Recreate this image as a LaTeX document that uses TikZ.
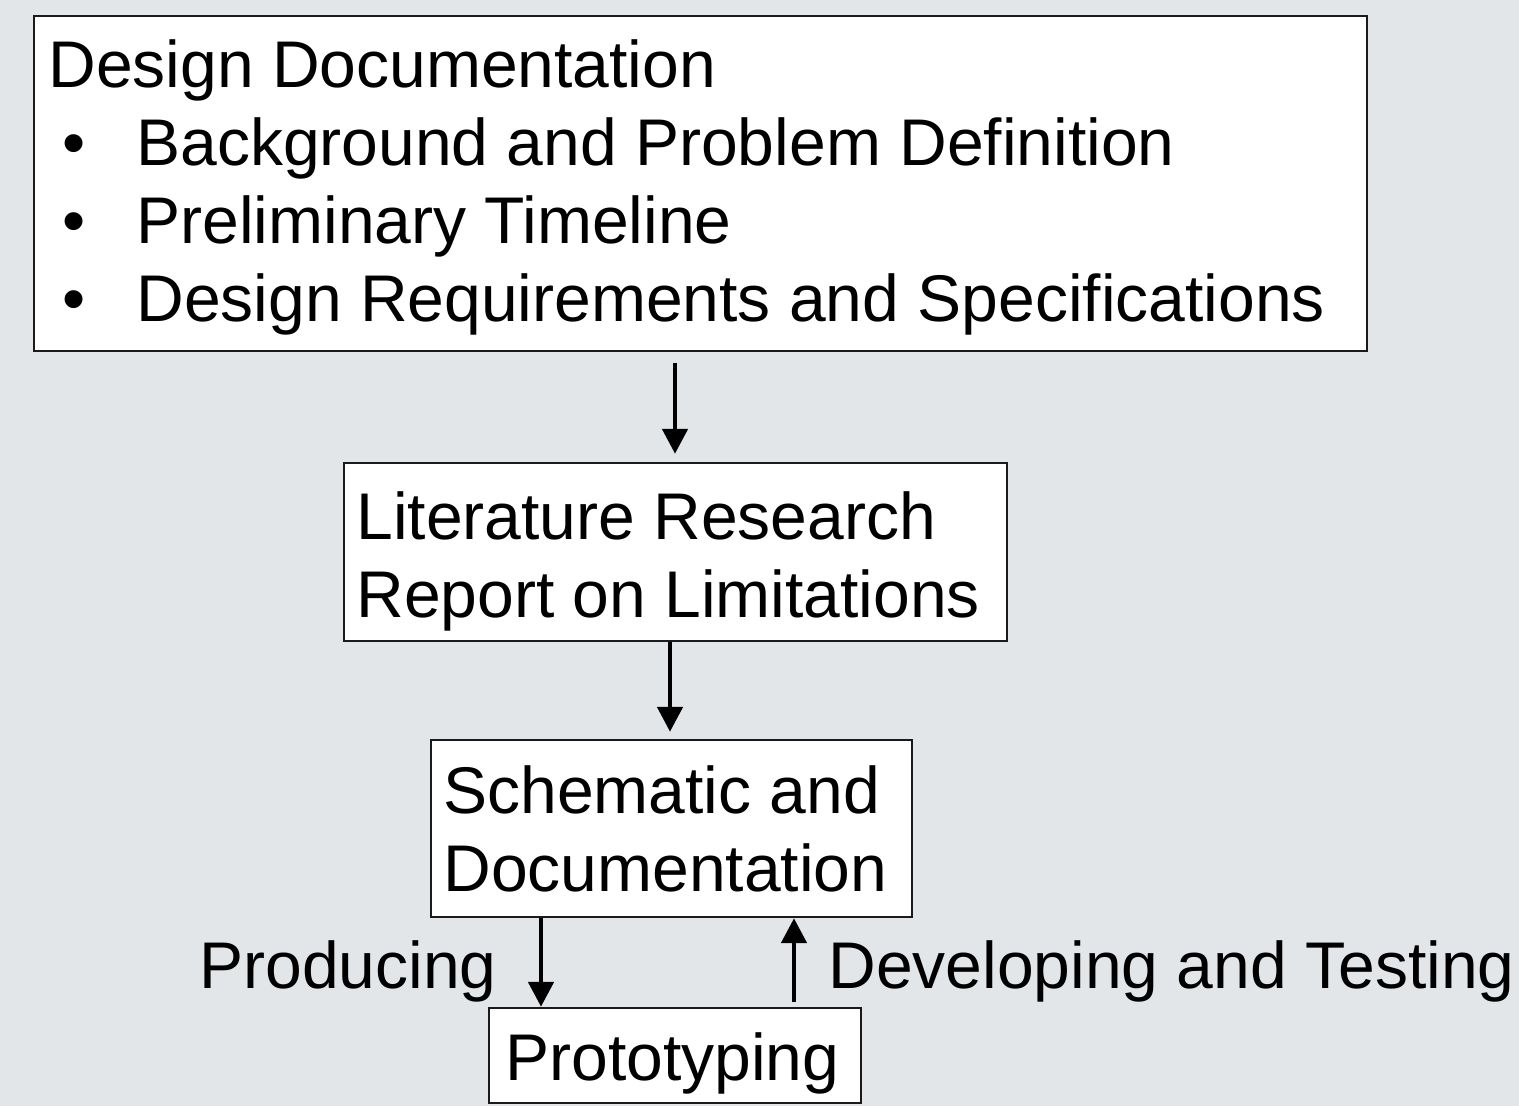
\documentclass[tikz,border=0pt]{standalone}
\usepackage{fontspec}
\setmainfont{Liberation Sans}
\usetikzlibrary{arrows.meta}
\definecolor{bgcol}{HTML}{E3E6E8}
\definecolor{boxline}{HTML}{1A1A1A}
\begin{document}
\begin{tikzpicture}[x=0.5pt,y=-0.5pt,
  box/.style={draw=boxline, line width=1.2pt, fill=white, rectangle, inner sep=0pt},
  txt/.style={anchor=base west, inner sep=0pt, align=left, font=\fontsize{33}{39}\selectfont},
  arr/.style={line width=2.4pt, -{Triangle[width=12.5pt,length=12.5pt]}}]
\fill[bgcol] (0,0) rectangle (1519,1106);
\useasboundingbox (0,0) rectangle (1519,1106);
% boxes
\node[box, minimum width=666.5pt, minimum height=167.5pt] (b1) at (700.5,183.5) {};
\node[box, minimum width=331.5pt, minimum height=89pt] (b2) at (675.5,552) {};
\node[box, minimum width=240.5pt, minimum height=88.5pt] (b3) at (671.5,828.5) {};
\node[box, minimum width=186pt, minimum height=47.5pt] (b4) at (675,1055.5) {};
% texts (base anchor = baseline of the last line)
\node[txt] (t1) at (48,322) {Design Documentation\\
\hspace*{7pt}\makebox[37pt][l]{•}Background and Problem Definition\\
\hspace*{7pt}\makebox[37pt][l]{•}Preliminary Timeline\\
\hspace*{7pt}\makebox[37pt][l]{•}Design Requirements and Specifications};
\node[txt] (t2) at (356,617) {Literature Research\\Report on Limitations};
\node[txt] (t3) at (443,891) {Schematic and\\Documentation};
\node[txt] (t4) at (505,1080) {Prototyping};
\node[txt] (l1) at (199,988) {Producing};
\node[txt] (l2) at (828,988) {Developing and Testing};
% arrows
\draw[arr, shorten <=5.5pt, shorten >=4pt] (b1.south -| 675,0) -- (b2.north -| 675,0);
\draw[arr, shorten >=3.5pt] (b2.south -| 670,0) -- (b3.north -| 670,0);
\draw[arr] (b3.south -| 541,0) -- (b4.north -| 541,0);
\draw[arr, shorten <=2.5pt] (b4.north -| 794,0) -- (b3.south -| 794,0);
\end{tikzpicture}
\end{document}
